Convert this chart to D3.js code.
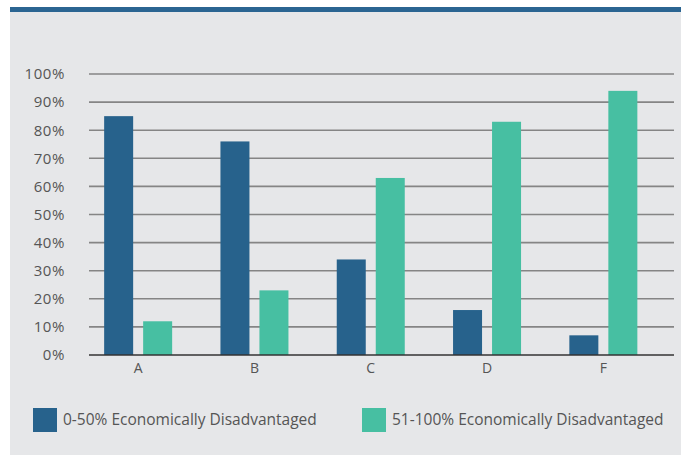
<!DOCTYPE html>
<html><head><meta charset="utf-8">
<script src="https://cdn.jsdelivr.net/npm/d3@7"></script>
<style>body{margin:0;background:#fff}svg{display:block}text{font-family:"Open Sans",sans-serif}</style>
</head><body><svg id="c" width="681" height="456"></svg>
<script>
const categories = ["A","B","C","D","F"];
const seriesNames = ["0-50% Economically Disadvantaged","51-100% Economically Disadvantaged"];
const low = [85, 76, 34, 16, 7];
const high = [12, 23, 63, 83, 94];
const yTicks = [0,10,20,30,40,50,60,70,80,90,100];
const colors = ["#27628c","#47bfa2"];

const svg = d3.select("#c");
svg.append("rect").attr("x",10).attr("y",12).attr("width",671).attr("height",443).attr("fill","#e6e7e9");
svg.append("rect").attr("x",10).attr("y",7).attr("width",671).attr("height",5).attr("fill","#2b6592");

const y = d3.scaleLinear().domain([0,100]).range([355,74]);
const x0 = d3.scaleBand().domain(categories).range([80,661.5]);
const x1 = d3.scaleBand().domain([0,1]).range([x0.bandwidth()/2-34, x0.bandwidth()/2+34]).paddingInner(0.2564);

const grid = svg.append("g");
grid.selectAll("line").data(yTicks.filter(d=>d>0)).join("line")
  .attr("x1",89).attr("x2",674).attr("y1",d=>y(d)).attr("y2",d=>y(d))
  .attr("stroke","#858585").attr("stroke-width",1.6);

const yAxis = d3.axisLeft(y).tickValues(yTicks).tickFormat(d=>d+"%").tickSize(0).tickPadding(0);
const ya = svg.append("g").attr("transform","translate(65,0)").call(yAxis);
ya.select(".domain").remove();
ya.selectAll("text").attr("font-size",15).attr("letter-spacing","0.6px").attr("fill","#555").attr("font-family","Open Sans, sans-serif");

const data = categories.map((c,i)=>({c, v:[low[i],high[i]]}));
const g = svg.append("g");
data.forEach(d=>{
  g.selectAll(null).data(d.v).join("rect")
   .attr("x",(v,j)=>x0(d.c)+x1(j)).attr("width",x1.bandwidth())
   .attr("y",v=>y(v)).attr("height",v=>y(0)-y(v)).attr("fill",(v,j)=>colors[j]);
});

svg.append("line").attr("x1",89).attr("x2",674).attr("y1",y(0)).attr("y2",y(0)).attr("stroke","#333").attr("stroke-width",1.6);

const xAxis = d3.axisBottom(x0).tickSize(0).tickPadding(0);
const xa = svg.append("g").attr("transform","translate(0,365)").call(xAxis);
xa.select(".domain").remove();
xa.selectAll("text").attr("font-size",14).attr("fill","#555").attr("dy","0.6em").attr("font-family","Open Sans, sans-serif");

const legX = [33, 362];
const leg = svg.append("g");
seriesNames.forEach((s,i)=>{
  leg.append("rect").attr("x",legX[i]).attr("y",408).attr("width",24).attr("height",24).attr("fill",colors[i]);
  leg.append("text").attr("x",legX[i]+30).attr("y",420).attr("dy","0.35em").attr("font-size",15.5).attr("fill","#555").text(s);
});
</script></body></html>
